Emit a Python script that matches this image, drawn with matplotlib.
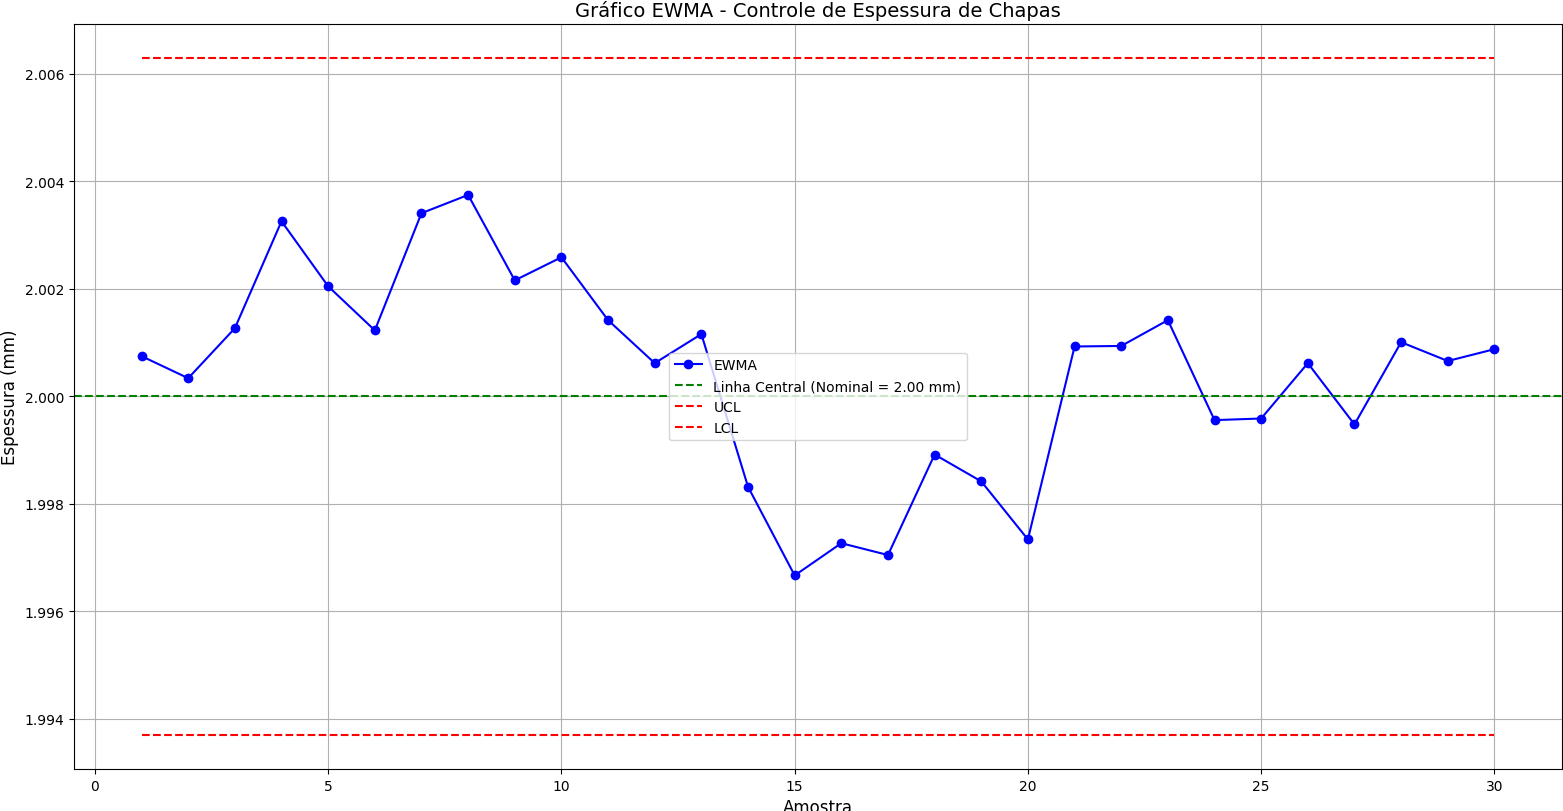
import matplotlib.pyplot as plt

# Dados do gráfico EWMA
amostras = list(range(1, 31))
ewma = [2.00075, 2.00034, 2.00127, 2.00326, 2.00205, 2.00123, 2.00341, 2.00375,
        2.00216, 2.00259, 2.00142, 2.00062, 2.00116, 1.99832, 1.99667, 1.99727,
        1.99705, 1.99892, 1.99842, 1.99734, 2.00093, 2.00094, 2.00142, 1.99956,
        1.99959, 2.00062, 1.99948, 2.00101, 2.00066, 2.00088]
nominal = 2.00
ucl = [2.0063] * 30
lcl = [1.9937] * 30

fig = plt.figure(figsize=(15.63, 8.12), dpi=100)
ax = fig.add_axes([0.0473, 0.0518, 0.9521, 0.9174])

ax.plot(amostras, ewma, marker='o', color='blue', label='EWMA')
ax.axhline(nominal, color='green', linestyle='--', label='Linha Central (Nominal = 2.00 mm)')
ax.plot(amostras, ucl, color='red', linestyle='--', label='UCL')
ax.plot(amostras, lcl, color='red', linestyle='--', label='LCL')

ax.set_title('Gráfico EWMA - Controle de Espessura de Chapas', fontsize=14)
ax.set_xlabel('Amostra', fontsize=12)
ax.set_ylabel('Espessura (mm)', fontsize=12)
ax.legend(loc='center')
ax.grid(True)

fig.savefig('out.png', dpi=100)
